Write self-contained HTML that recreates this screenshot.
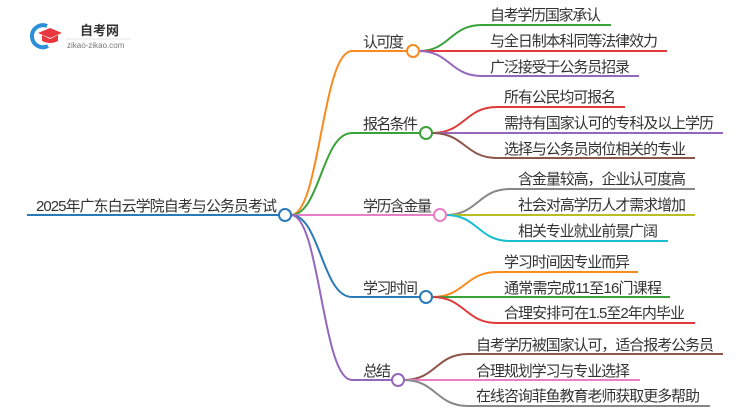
<!DOCTYPE html>
<html><head><meta charset="utf-8"><style>
html,body{margin:0;padding:0;background:#fff;}
svg{display:block;}
text{font-family:"Liberation Sans","Noto Sans CJK SC",sans-serif;fill:#333;font-size:15px;}
</style></head><body>
<svg width="750" height="410" viewBox="0 0 750 410" xmlns="http://www.w3.org/2000/svg">
<!-- logo -->
<g>
<path d="M47 26 A11 11 0 1 0 48 46" fill="none" stroke="#2a8fd6" stroke-width="4"/>
<path d="M38 33 L50 28 L62 33 L50 38 Z" fill="#e8383d"/>
<path d="M42 35 L42 41 Q50 45 58 41 L58 35 L50 39 Z" fill="#e8383d"/>
<text x="80" y="35" style="font-size:13px;font-weight:bold;fill:#333">自考网</text>
<line x1="66" y1="39" x2="131" y2="39" stroke="#ddd" stroke-width="0.8"/>
<text x="67" y="48" style="font-size:8px;fill:#777">zikao-zikao.com</text>
</g>
<g fill="none" stroke-width="2">
<!-- root -->
<line x1="27" y1="215" x2="280" y2="215" stroke="#2a7ab9"/>
<!-- branches -->
<path d="M291 215 C320 215 322 51 352 51 L407 51" stroke="#f88a1f"/>
<path d="M291 215 C320 215 322 133 352 133 L420 133" stroke="#3aa23a"/>
<path d="M291 215 L434 215" stroke="#e87ec8"/>
<path d="M291 215 C320 215 322 297 352 297 L420 297" stroke="#2a7ab9"/>
<path d="M291 215 C320 215 322 380 352 380 L392 380" stroke="#9467bd"/>
<!-- 认可度 leaves -->
<path d="M419 51 C450 51 450 25 482 25 L611 25" stroke="#3aa23a"/>
<path d="M419 51 L667 51" stroke="#e03a3a"/>
<path d="M419 51 C450 51 450 76 482 76 L639 76" stroke="#9467bd"/>
<!-- 报名条件 leaves -->
<path d="M432 133 C465 133 465 107 497 107 L625 107" stroke="#e03a3a"/>
<path d="M432 133 L723 133" stroke="#9467bd"/>
<path d="M432 133 C465 133 465 158 497 158 L695 158" stroke="#8c564b"/>
<!-- 学历含金量 leaves -->
<path d="M446 215 C478 215 478 189 510 189 L695 189" stroke="#888"/>
<path d="M446 215 L695 215" stroke="#bcbd22"/>
<path d="M446 215 C478 215 478 241 510 241 L668 241" stroke="#17becf"/>
<!-- 学习时间 leaves -->
<path d="M432 297 C465 297 465 272 497 272 L638 272" stroke="#f88a1f"/>
<path d="M432 297 L670 297" stroke="#3aa23a"/>
<path d="M432 297 C465 297 465 323 497 323 L695 323" stroke="#e03a3a"/>
<!-- 总结 leaves -->
<path d="M404 380 C436 380 436 354 468 354 L723 354" stroke="#8c564b"/>
<path d="M404 380 L640 380" stroke="#e87ec8"/>
<path d="M404 380 C436 380 436 406 468 406 L710 406" stroke="#888"/>
<!-- circles -->
<circle cx="285" cy="215" r="6" fill="#fff" stroke="#2a7ab9"/>
<circle cx="413" cy="51" r="6" fill="#fff" stroke="#f88a1f"/>
<circle cx="426" cy="133" r="6" fill="#fff" stroke="#3aa23a"/>
<circle cx="440" cy="215" r="6" fill="#fff" stroke="#e87ec8"/>
<circle cx="426" cy="297" r="6" fill="#fff" stroke="#2a7ab9"/>
<circle cx="398" cy="380" r="6" fill="#fff" stroke="#9467bd"/>
</g>
<text x="36" y="211" textLength="241">2025年广东白云学院自考与公务员考试</text>
<text x="363" y="47" textLength="41">认可度</text>
<text x="363" y="129" textLength="55">报名条件</text>
<text x="363" y="211" textLength="69">学历含金量</text>
<text x="363" y="293" textLength="55">学习时间</text>
<text x="363" y="376" textLength="28">总结</text>

<text x="490" y="20" textLength="111">自考学历国家承认</text>
<text x="490" y="46" textLength="168">与全日制本科同等法律效力</text>
<text x="490" y="72" textLength="140">广泛接受于公务员招录</text>

<text x="504" y="102" textLength="112">所有公民均可报名</text>
<text x="504" y="128" textLength="210">需持有国家认可的专科及以上学历</text>
<text x="504" y="154" textLength="182">选择与公务员岗位相关的专业</text>

<text x="518" y="184" textLength="168">含金量较高，企业认可度高</text>
<text x="518" y="210" textLength="168">社会对高学历人才需求增加</text>
<text x="518" y="236" textLength="140">相关专业就业前景广阔</text>

<text x="504" y="267" textLength="126">学习时间因专业而异</text>
<text x="504" y="293" textLength="158">通常需完成11至16门课程</text>
<text x="504" y="318" textLength="181">合理安排可在1.5至2年内毕业</text>

<text x="476" y="350" textLength="238">自考学历被国家认可，适合报考公务员</text>
<text x="476" y="376" textLength="154">合理规划学习与专业选择</text>
<text x="476" y="401" textLength="224">在线咨询菲鱼教育老师获取更多帮助</text>
</svg>
</body></html>
